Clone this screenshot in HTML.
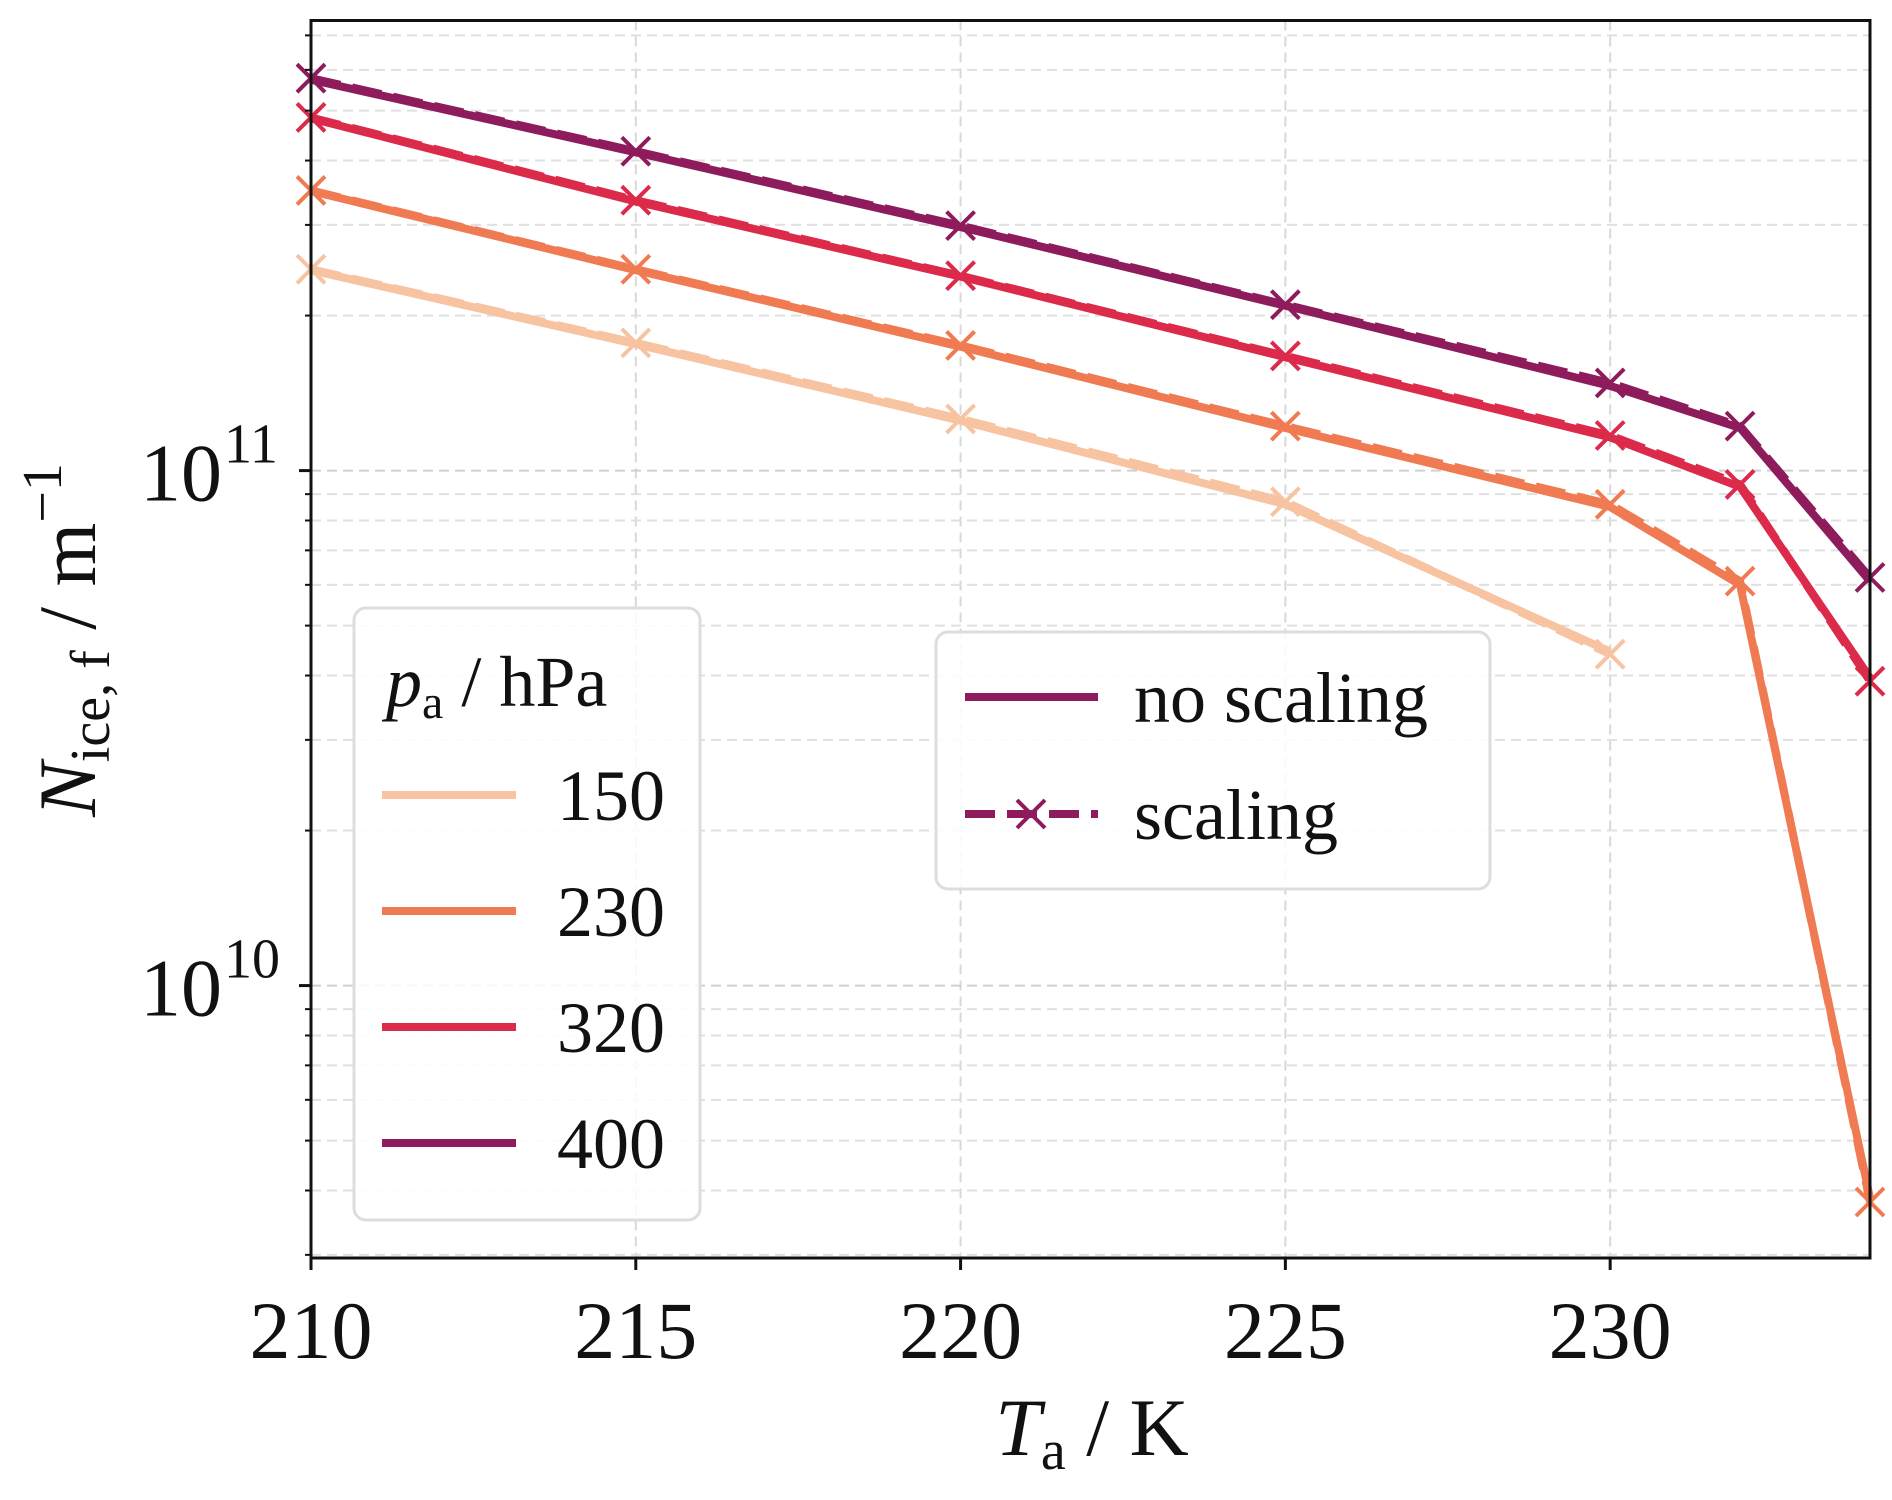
<!DOCTYPE html>
<html><head><meta charset="utf-8"><style>
body{margin:0;background:#fff}
svg{display:block}
text{font-family:"Liberation Serif",serif;fill:#111}
</style></head><body>
<svg id="chart" width="1892" height="1500" viewBox="0 0 1892 1500" xmlns="http://www.w3.org/2000/svg">
<g id="grid"></g>
<g id="series"></g>
<rect x="311" y="20.5" width="1559" height="1237.5" fill="none" stroke="#111" stroke-width="3"/>
<g id="axes"></g>
<text x="1092" y="1455" font-size="82" text-anchor="middle"><tspan font-style="italic">T</tspan><tspan font-size="56" dy="14">a</tspan><tspan dy="-14"> / K</tspan></text>
<text transform="translate(95,640) rotate(-90)" font-size="82" text-anchor="middle"><tspan font-style="italic">N</tspan><tspan font-size="56" dy="14">ice, f</tspan><tspan dy="-14"> / m</tspan><tspan font-size="56" dy="-34">−1</tspan></text>
<g>
<rect x="354" y="608" width="346" height="612" rx="12" fill="#fff" fill-opacity="0.85" stroke="#ddd" stroke-width="3"/>
<text x="386" y="706" font-size="72"><tspan font-style="italic">p</tspan><tspan font-size="48" dy="12">a</tspan><tspan dy="-12"> / hPa</tspan></text>
</g>
<g id="plegend"></g>
<g>
<rect x="936" y="632" width="554" height="257" rx="12" fill="#fff" fill-opacity="0.85" stroke="#ddd" stroke-width="3"/>
<line x1="965" y1="697" x2="1098" y2="697" stroke="#8e1c5c" stroke-width="8"/>
<text x="1134" y="722" font-size="72">no scaling</text>
<line x1="965" y1="814" x2="1098" y2="814" stroke="#8e1c5c" stroke-width="8" stroke-dasharray="30,12"/>
<path d="M1017 800 L1045 828 M1017 828 L1045 800" stroke="#8e1c5c" stroke-width="4"/>
<text x="1134" y="839" font-size="72">scaling</text>
</g>
</svg>
<script>
const temps=[210,215,220,225,230,232,234];
const pressures=["150","230","320","400"];
const colors=["#f7c3a1","#f07b52","#dc2a4a","#8e1c5c"];
const n150=[2.45e11,1.76e11,1.25e11,8.6e10,4.45e10];
const n230=[3.49e11,2.45e11,1.74e11,1.21e11,8.5e10,6.0e10,3.87e9];
const n320=[4.83e11,3.33e11,2.38e11,1.66e11,1.16e11,9.3e10,3.96e10];
const n400=[5.74e11,4.15e11,2.97e11,2.09e11,1.46e11,1.21e11,6.1e10];
const s150=[2.46e11,1.77e11,1.26e11,8.7e10,4.4e10];
const s230=[3.5e11,2.46e11,1.75e11,1.22e11,8.6e10,6.1e10,3.8e9];
const s320=[4.85e11,3.35e11,2.39e11,1.67e11,1.17e11,9.4e10,3.9e10];
const s400=[5.78e11,4.17e11,2.99e11,2.1e11,1.48e11,1.22e11,6.2e10];
const xTicks=[210,215,220,225,230];
const yTicks=[1e10,1e11];
const NS="http://www.w3.org/2000/svg";
const X0=311,X1=1870,Y0=20.5,Y1=1258,TMIN=210,TMAX=234,LMIN=9.471,LMAX=11.874;
function xs(t){return X0+(t-TMIN)/(TMAX-TMIN)*(X1-X0);}
function ys(v){return Y1-(Math.log10(v)-LMIN)/(LMAX-LMIN)*(Y1-Y0);}
function mk(tag,parent,attrs){const e=document.createElementNS(NS,tag);for(const k in attrs)e.setAttribute(k,attrs[k]);parent.appendChild(e);return e;}
const grid=document.getElementById('grid'),axes=document.getElementById('axes'),series=document.getElementById('series'),pl=document.getElementById('plegend');
for(const t of [210,212.5,215,217.5,220,222.5,225,227.5,230,232.5]){if(t%5!==0)continue;
 const l=mk('line',grid,{x1:xs(t),x2:xs(t),y1:Y0,y2:Y1,stroke:'#d8d8d8','stroke-width':2,'stroke-dasharray':'10,6'});
 }
for(let e=9;e<=11;e++)for(let m=1;m<10;m++){const v=m*Math.pow(10,e);const y=ys(v);if(y<Y0||y>Y1)continue;
 const l=mk('line',grid,{x1:X0,x2:X1,y1:y,y2:y,stroke:m===1?'#d0d0d0':'#e0e0e0','stroke-width':2,'stroke-dasharray':'10,6'});
 
 const tk=mk('line',axes,{x1:X0,x2:X0-(m===1?12:6),y1:y,y2:y,stroke:'#111','stroke-width':m===1?3:2});
 }
xTicks.forEach(t=>{const tk=mk('line',axes,{x1:xs(t),x2:xs(t),y1:Y1,y2:Y1+12,stroke:'#111','stroke-width':3});
 
 const tx=mk('text',axes,{x:xs(t),y:Y1+100,'font-size':82,'text-anchor':'middle'});tx.textContent=String(t);
 });
yTicks.forEach(v=>{const e=Math.round(Math.log10(v));const y=ys(v);
 const tx=mk('text',axes,{x:222,y:y+30,'font-size':82,'text-anchor':'end'});tx.textContent='10';
 
 const sp=mk('text',axes,{x:224,y:y-8,'font-size':56});sp.textContent=String(e);
 });
const nos=[n150,n230,n320,n400],scs=[s150,s230,s320,s400];
function pts(arr){return arr.map((v,i)=>xs(temps[i])+','+ys(v)).join(' ');}
for(let k=0;k<4;k++){
 const a=mk('polyline',series,{points:pts(nos[k]),fill:'none',stroke:colors[k],'stroke-width':8,'stroke-linejoin':'round'});
 
 const b=mk('polyline',series,{points:pts(scs[k]),fill:'none',stroke:colors[k],'stroke-width':8,'stroke-dasharray':'30,12'});
 
 scs[k].forEach((v,i)=>{const x=xs(temps[i]),y=ys(v);
  const m=mk('path',series,{d:`M${x-14} ${y-14}L${x+14} ${y+14}M${x-14} ${y+14}L${x+14} ${y-14}`,stroke:colors[k],'stroke-width':4});
  });
 const yy=795+k*116;
 const ll=mk('line',pl,{x1:382,x2:516,y1:yy,y2:yy,stroke:colors[k],'stroke-width':8});
 
 const lt=mk('text',pl,{x:665,y:yy+25,'font-size':72,'text-anchor':'end'});lt.textContent=pressures[k];
 
}
</script>
</body></html>
